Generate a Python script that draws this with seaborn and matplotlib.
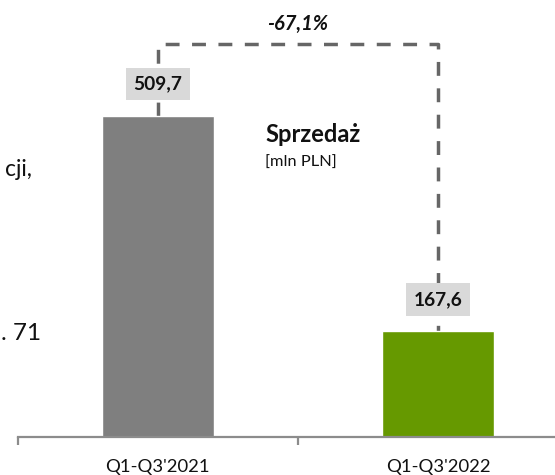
import matplotlib
matplotlib.use("Agg")
import matplotlib.pyplot as plt
import seaborn as sns

# --- data ---
periods = ["Q1-Q3'2021", "Q1-Q3'2022"]
sales = [509.7, 167.6]
sales_labels = ["509,7", "167,6"]
change_label = "-67,1%"
bar_colors = ["#7F7F7F", "#669900"]

sns.set_theme(style="white")
plt.rcParams['font.family'] = ['Lato', 'DejaVu Sans']

fig = plt.figure(figsize=(5.55, 4.75), dpi=100)
ax = fig.add_axes([0, 0, 1, 1])

sns.barplot(x=periods, y=sales, hue=periods, palette=bar_colors, legend=False,
            width=0.4, saturation=1, ax=ax, zorder=2)

ax.set_xlim(-0.564, 1.418)
ax.set_ylim(-60.3, 693.9)

# axis line with ticks between categories
for s in ['top', 'right', 'left']:
    ax.spines[s].set_visible(False)
ax.spines['bottom'].set_position(('data', 0))
ax.spines['bottom'].set_bounds(-0.5, 1.5)
ax.spines['bottom'].set_color('#8C8C8C')
ax.spines['bottom'].set_linewidth(1.6)
ax.set_yticks([])
ax.set_xticks([0, 1])
ax.set_xticklabels(periods, fontsize=13.3, color='#111111')
ax.tick_params(axis='x', which='major', length=0, pad=16)
ax.set_xticks([-0.5, 0.5], minor=True)
ax.tick_params(axis='x', which='minor', length=6, width=1.6, color='#8C8C8C',
               direction='out', bottom=True)
ax.set_xlabel('')
ax.set_ylabel('')

# dashed connector between bars
top = 624
ax.plot([0, 0, 1, 1], [sales[0], top, top, sales[1]], color='#666666',
        lw=2.5, dashes=(4.0, 3.6), zorder=1, solid_capstyle='butt')

# value labels
for i, (v, lab) in enumerate(zip(sales, sales_labels)):
    ax.annotate(lab, (i, v), xytext=(0, 23), textcoords='offset points',
                ha='center', va='center', fontsize=13.8, fontweight='bold',
                color='#111111', zorder=3,
                bbox=dict(boxstyle='square,pad=0.4', fc='#D9D9D9', ec='none'))

ax.text(0.5, 656, change_label, ha='center', va='center', fontsize=14.5,
        fontweight='bold', fontstyle='italic', color='#111111')

# title block
ax.text(265 / 555, 1 - 135 / 475, "Sprzedaż", transform=fig.transFigure,
        ha='left', va='center', fontsize=17, fontweight='bold', color='#111111')
ax.text(265 / 555, 1 - 163 / 475, "[mln PLN]", transform=fig.transFigure,
        ha='left', va='center', fontsize=11.8, color='#111111')

# cut-off text from the slide on the left
ax.text(5 / 555, 1 - 170 / 475, "cji,", transform=fig.transFigure,
        ha='left', va='center', fontsize=16.5, color='#111111')
ax.text(1 / 555, 1 - 333 / 475, ". 71", transform=fig.transFigure,
        ha='left', va='center', fontsize=17.5, color='#111111')

fig.savefig("out.png", dpi=100)
